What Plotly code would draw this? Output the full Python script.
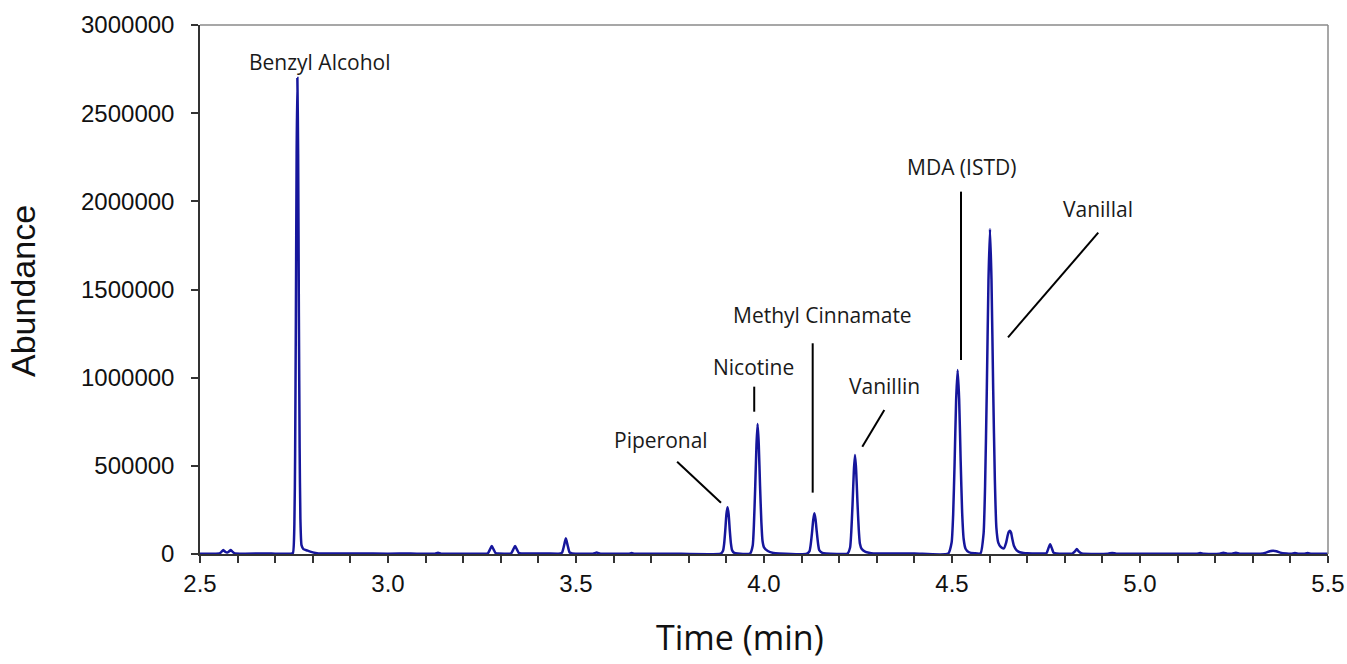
import plotly.graph_objects as go

# ---- data ----
time_min = [
    2.500, 2.540, 2.552, 2.557, 2.562, 2.567, 2.572, 2.577, 2.582, 2.587, 2.593, 2.620, 2.677, 2.700,
    2.740, 2.747, 2.751, 2.753, 2.755, 2.757, 2.759, 2.761, 2.763, 2.765, 2.767, 2.770, 2.775, 2.785,
    2.800, 2.815, 2.850, 2.880, 2.920, 3.000, 3.060, 3.125, 3.133, 3.141, 3.200,
    3.262, 3.266, 3.271, 3.276, 3.281, 3.286, 3.293,
    3.324, 3.328, 3.333, 3.338, 3.343, 3.348, 3.355, 3.420,
    3.459, 3.463, 3.468, 3.473, 3.478, 3.483, 3.490,
    3.545, 3.555, 3.565, 3.640, 3.648, 3.656, 3.750,
    3.885, 3.891, 3.894, 3.897, 3.900, 3.903, 3.906, 3.909, 3.912, 3.915, 3.921, 3.930,
    3.963, 3.970, 3.973, 3.9765, 3.980, 3.983, 3.986, 3.9895, 3.993, 3.996, 4.000, 4.010, 4.025, 4.040,
    4.114, 4.121, 4.124, 4.1275, 4.131, 4.134, 4.137, 4.1405, 4.144, 4.147, 4.155, 4.165,
    4.222, 4.229, 4.232, 4.2355, 4.239, 4.242, 4.245, 4.2485, 4.252, 4.255, 4.260, 4.270, 4.285, 4.300,
    4.400, 4.490, 4.499, 4.503, 4.507, 4.511, 4.515, 4.519, 4.523, 4.527, 4.531, 4.536, 4.545, 4.560,
    4.576, 4.584, 4.588, 4.5925, 4.597, 4.601, 4.605, 4.6095, 4.614, 4.618, 4.623, 4.630, 4.638,
    4.644, 4.648, 4.651, 4.654, 4.657, 4.660, 4.665, 4.672, 4.680, 4.690, 4.700, 4.720,
    4.748, 4.752, 4.756, 4.761, 4.766, 4.770, 4.778,
    4.820, 4.827, 4.832, 4.837, 4.845, 4.915, 4.926, 4.937, 5.000,
    5.150, 5.160, 5.170, 5.212, 5.222, 5.232, 5.245, 5.255, 5.265,
    5.320, 5.335, 5.345, 5.354, 5.363, 5.373, 5.390,
    5.402, 5.412, 5.422, 5.436, 5.446, 5.456, 5.500,
]
abundance = [
    2000, 2000, 3000, 12000, 23000, 13000, 8000, 14000, 23000, 12000, 3000, 2000, 3500, 2000,
    2000, 5000, 170000, 570000, 1350000, 2270000, 2700000, 2270000, 1350000, 600000, 200000, 50000, 28000, 20000,
    9000, 3500, 2500, 3500, 2500, 2000, 2500, 2000, 7000, 2000, 2000,
    2000, 5000, 25000, 45000, 25000, 5500, 2500,
    2000, 5000, 25000, 45000, 25000, 5500, 2500, 3000,
    2500, 8000, 46000, 89000, 47000, 9000, 3000,
    2000, 8000, 2000, 2000, 5000, 2000, 2000,
    2000, 18000, 57000, 134000, 224000, 265000, 224000, 134000, 60000, 22000, 6000, 2500,
    2500, 48000, 157000, 370000, 620000, 737000, 625000, 385000, 180000, 75000, 38000, 17000, 6000, 3000,
    2000, 16000, 50000, 117000, 195000, 231000, 197000, 122000, 55000, 22000, 7000, 3000,
    2500, 37000, 120000, 282000, 472000, 561000, 478000, 295000, 140000, 60000, 28000, 12000, 5000, 3000,
    2500, 2500, 65000, 219000, 522000, 876000, 1043000, 880000, 530000, 235000, 85000, 30000, 10000, 4000,
    4000, 115000, 387000, 921000, 1550000, 1843000, 1560000, 940000, 420000, 150000, 65000, 40000, 32000,
    65000, 105000, 125000, 132000, 122000, 90000, 45000, 20000, 10000, 6000, 4000, 3000,
    3000, 7000, 30000, 55000, 30000, 8000, 3000,
    2500, 15000, 28000, 15000, 2500, 2000, 6000, 2000, 2000,
    2000, 5000, 2000, 2000, 7000, 2000, 2000, 7000, 2000,
    2000, 8000, 16000, 19000, 16000, 8000, 3000,
    2000, 5000, 2000, 2000, 5000, 2000, 2000,
]

peak_names = ["Benzyl Alcohol", "Piperonal", "Nicotine", "Methyl Cinnamate",
              "Vanillin", "MDA (ISTD)", "Vanillal"]

# ---- label placement (layout, data coordinates) ----
label_pos = [(2.819, 2790000), (3.725, 646000), (3.973, 1060000), (4.156, 1355000),
             (4.321, 953000), (4.525, 2196000), (4.887, 1956000)]
leader_lines = [None,
                (3.769, 523000, 3.8856, 291000),
                (3.974, 949000, 3.974, 807000),
                (4.1295, 1195000, 4.1295, 348000),
                (4.320, 817000, 4.2614, 608000),
                (4.524, 2055000, 4.524, 1100000),
                (4.889, 1822000, 4.649, 1229000)]

fig = go.Figure()
fig.add_trace(go.Scatter(x=time_min, y=abundance, mode="lines",
                         line=dict(color="#16169c", width=2.5, shape="spline", smoothing=0.5),
                         showlegend=False, hoverinfo="skip"))

for name, (lx, ly), ln in zip(peak_names, label_pos, leader_lines):
    fig.add_annotation(x=lx, y=ly, xref="x", yref="y", text=name, showarrow=False,
                       font=dict(family="Open Sans", size=21, color="#1a1a1a"),
                       xanchor="center", yanchor="middle")
    if ln is not None:
        fig.add_shape(type="line", xref="x", yref="y", x0=ln[0], y0=ln[1], x1=ln[2], y1=ln[3],
                      line=dict(color="black", width=2))

# frame: top & right in grey
fig.add_shape(type="line", xref="paper", yref="paper", x0=0, y0=1, x1=1, y1=1,
              line=dict(color="#8a8a8a", width=1.5))
fig.add_shape(type="line", xref="paper", yref="paper", x0=1, y0=0, x1=1, y1=1,
              line=dict(color="#8a8a8a", width=1.5))

# axis titles
fig.add_annotation(x=0.479, y=-0.157, xref="paper", yref="paper", text="Time (min)",
                   showarrow=False, font=dict(family="Open Sans", size=34, color="#111"),
                   xanchor="center", yanchor="middle")
fig.add_annotation(x=-0.157, y=0.497, xref="paper", yref="paper", text="Abundance",
                   showarrow=False, textangle=-90,
                   font=dict(family="Liberation Sans, Arial", size=34, color="#111"),
                   xanchor="center", yanchor="middle")

fig.update_layout(
    width=1347, height=664,
    margin=dict(l=200, r=19, t=25, b=110, autoexpand=False),
    paper_bgcolor="white", plot_bgcolor="white",
    xaxis=dict(range=[2.5, 5.5], dtick=0.5, tick0=2.5, tickformat=".1f",
               showgrid=False, zeroline=False, showline=True, linecolor="#333", linewidth=1.5,
               ticks="outside", ticklen=7, tickcolor="#333", tickwidth=1.5,
               minor=dict(dtick=0.1, tick0=2.5, ticks="outside", ticklen=7, tickcolor="#333",
                          tickwidth=1.5, showgrid=False),
               tickfont=dict(family="Liberation Sans, Arial", size=24, color="#111"),
               ticklabelstandoff=0),
    yaxis=dict(range=[0, 3000000], dtick=500000, tickformat="d",
               showgrid=False, zeroline=False, showline=True, linecolor="#333", linewidth=1.5,
               ticks="outside", ticklen=7, tickcolor="#333", tickwidth=1.5,
               tickfont=dict(family="Liberation Sans, Arial", size=24, color="#111"),
               ticklabelstandoff=12),
)

fig.write_html("out.html", config={"displayModeBar": False},
               post_script="document.body.style.margin='0';document.body.style.overflow='hidden';")
